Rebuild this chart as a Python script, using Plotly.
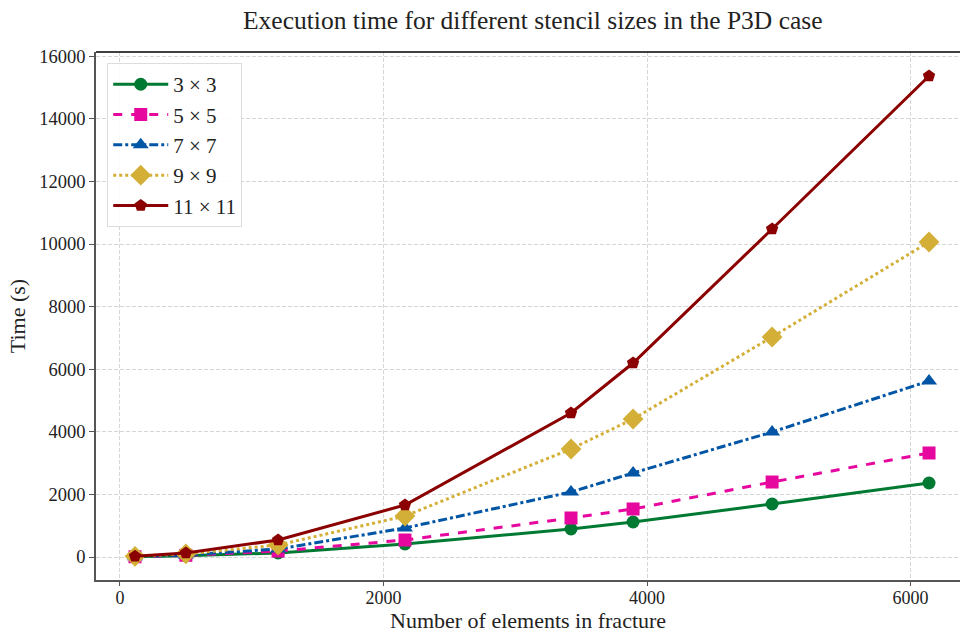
import plotly.graph_objects as go

# Problem size (number of fracture elements)
n_elements = [114, 500, 1200, 2163, 3423, 3894, 4949, 6140]

# Execution time (s) per stencil size
t_3x3 = [5, 40, 130, 415, 895, 1118, 1693, 2364]
t_5x5 = [8, 55, 190, 543, 1246, 1534, 2396, 3323]
t_7x7 = [10, 65, 256, 927, 2077, 2684, 3994, 5623]
t_9x9 = [20, 100, 383, 1310, 3451, 4409, 7029, 10064]
t_11x11 = [25, 130, 543, 1661, 4601, 6198, 10480, 15368]

series_names = ["3 × 3", "5 × 5", "7 × 7", "9 × 9", "11 × 11"]
series_values = [t_3x3, t_5x5, t_7x7, t_9x9, t_11x11]

colors = ["#007A33", "#E6079E", "#0055A4", "#D4AF37", "#8B0000"]
dashes = ["solid", "dash", "dashdot", "dot", "solid"]
symbols = ["circle", "square", "triangle-up", "diamond", "pentagon"]
marker_sizes = [13, 13, 14, 16, 13]

FONT = "Liberation Serif"
GRID = "#d6d6d6"

fig = go.Figure()
for name, vals, c, d, s, ms in zip(series_names, series_values, colors, dashes, symbols, marker_sizes):
    fig.add_trace(go.Scatter(
        x=n_elements, y=vals, name=name, mode="lines+markers",
        line=dict(color=c, width=3, dash=d),
        marker=dict(color=c, symbol=s, size=ms),
    ))

fig.update_layout(
    width=960, height=633,
    margin=dict(l=96, r=0, t=52, b=53),
    paper_bgcolor="white", plot_bgcolor="white",
    font=dict(family=FONT, size=18.5, color="#222222"),
    title=dict(text="Execution time for different stencil sizes in the P3D case",
               x=0.555, xanchor="center", y=0.968, yanchor="middle",
               font=dict(family=FONT, size=25.5, color="#222222")),
    showlegend=True,
    legend=dict(x=0.013, y=0.979, xanchor="left", yanchor="top",
                bgcolor="rgba(255,255,255,0.9)", bordercolor="#dddddd", borderwidth=1,
                font=dict(family=FONT, size=21), itemwidth=55,
                tracegroupgap=0),
    xaxis=dict(
        range=[-182, 6375], tickvals=[0, 2000, 4000, 6000], tickformat="d",
        showline=True, linecolor="#555555", linewidth=1.5,
        ticks="outside", ticklen=4, tickcolor="#555555",
        ticklabelstandoff=-3, tickfont=dict(size=18),
        showgrid=True, gridcolor=GRID, griddash="4px,2px", gridwidth=1,
        zeroline=False,
    ),
    yaxis=dict(
        range=[-735, 16135], tickvals=list(range(0, 16001, 2000)), tickformat="d",
        title=dict(text="Time (s)", font=dict(size=22), standoff=8),
        showline=True, linecolor="#555555", linewidth=1.5,
        ticks="outside", ticklen=5, tickcolor="#555555",
        showgrid=True, gridcolor=GRID, griddash="4px,2px", gridwidth=1,
        zeroline=False,
    ),
    annotations=[dict(text="Number of elements in fracture", xref="paper", yref="paper",
                      x=0.5, y=0, yshift=-40, xanchor="center", yanchor="middle",
                      showarrow=False, borderpad=0,
                      font=dict(family=FONT, size=22, color="#222222"))],
    shapes=[dict(type="line", xref="paper", yref="paper", x0=0, x1=1, y0=1, y1=1,
                 line=dict(color="black", width=1.5))],
)

fig.write_html("out.html")
